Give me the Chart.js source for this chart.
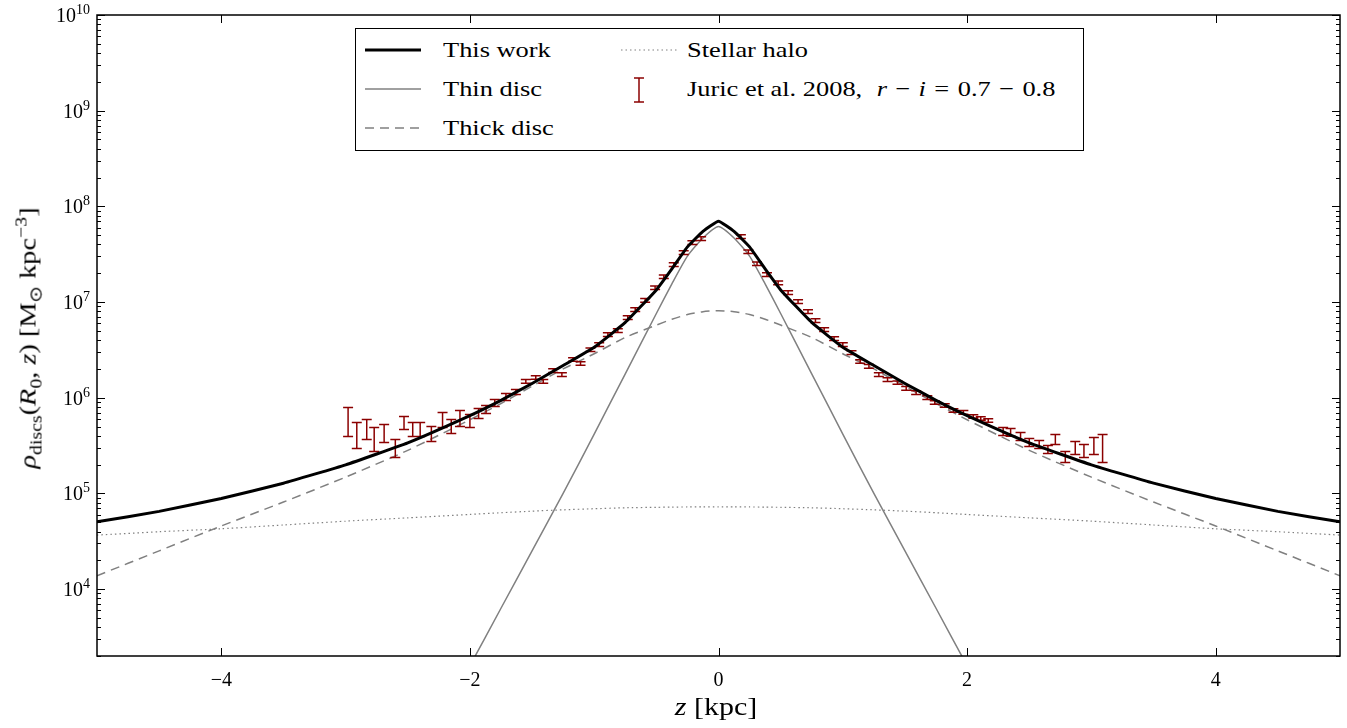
<!DOCTYPE html>
<html>
<head>
<meta charset="utf-8">
<script src="https://cdn.jsdelivr.net/npm/chart.js@4.4.1/dist/chart.umd.min.js"></script>
<style>
  html,body{margin:0;padding:0;background:#fff;}
  #wrap{position:relative;width:1347px;height:728px;color:#000;}
  .serif{font-family:'Liberation Serif','Times New Roman',Times,serif;}
  canvas{position:absolute;left:0;top:0;}
  .lbl{position:absolute;white-space:nowrap;}
  #legend{position:absolute;left:355px;top:28px;width:729px;height:123px;border:1.5px solid #000;box-sizing:border-box;background:#fff;font-size:22px;}
  #legend .t{position:absolute;white-space:nowrap;line-height:24px;transform-origin:left center;transform:scaleX(1.2);}
  #legend svg{position:absolute;left:0;top:0;}
  sub,sup{font-size:70%;line-height:0;}
  .op{margin:0 7px;}
  .gap{display:inline-block;width:12px;}
</style>
</head>
<body>
<div id="wrap">
<canvas id="c" width="1347" height="728"></canvas>
<div id="legend" class="serif">
  <svg width="729" height="123">
    <line x1="9" y1="21" x2="65" y2="21" stroke="#000" stroke-width="3"/>
    <line x1="9" y1="60" x2="65" y2="60" stroke="#808080" stroke-width="1.5"/>
    <line x1="9" y1="99" x2="65" y2="99" stroke="#808080" stroke-width="1.5" stroke-dasharray="9,6"/>
    <line x1="265" y1="21" x2="321" y2="21" stroke="#808080" stroke-width="1.2" stroke-dasharray="1.5,3"/>
    <line x1="283" y1="49" x2="283" y2="73" stroke="#8b0000" stroke-width="1.5"/>
    <line x1="278" y1="49" x2="288" y2="49" stroke="#8b0000" stroke-width="1.5"/>
    <line x1="278" y1="73" x2="288" y2="73" stroke="#8b0000" stroke-width="1.5"/>
  </svg>
  <div class="t serif" style="left:87px;top:9px;">This work</div>
  <div class="t serif" style="left:87px;top:48px;">Thin disc</div>
  <div class="t serif" style="left:87px;top:87px;">Thick disc</div>
  <div class="t serif" style="left:331px;top:9px;">Stellar halo</div>
  <div class="t serif" style="left:331px;top:48px;">Juric et al. 2008,<span class="gap"></span><i>r</i><span class="op">−</span><i>i</i><span class="op">=</span>0.7<span class="op">−</span>0.8</div>
</div>
<div class="lbl serif" id="ylab" style="left:28px;top:338px;font-size:24px;transform:translate(-50%,-50%) rotate(-90deg) scaleX(1.18);"><i>ρ</i><sub>discs</sub>(<i>R</i><sub>0</sub>, <i>z</i>) [M<sub>⊙</sub> kpc<sup>−3</sup>]</div>
<div class="lbl serif" id="xlab" style="left:716px;top:707px;font-size:25px;transform:translate(-50%,-50%) scaleX(1.2);"><i>z</i> [kpc]</div>
</div>
<script>
// ---- Data ----
const zGrid = [-5,-4.5,-4,-3.5,-3,-2.5,-2,-1.75,-1.5,-1.25,-1,-0.75,-0.5,-0.375,-0.25,-0.125,0,0.125,0.25,0.375,0.5,0.75,1,1.25,1.5,1.75,2,2.5,3,3.5,4,4.5,5];
const thisWork = [5.05e4,6.49e4,8.84e4,1.28e5,1.99e5,3.38e5,6.51e5,9.4e5,1.41e6,2.17e6,3.37e6,6.12e6,1.34e7,2.22e7,3.77e7,5.48e7,7.0e7,5.48e7,3.77e7,2.22e7,1.34e7,6.12e6,3.37e6,2.17e6,1.41e6,9.4e5,6.51e5,3.38e5,1.99e5,1.28e5,8.84e4,6.49e4,5.05e4];
const thinDisc = [null,null,null,null,null,1.0e2,1.58e3,6.31e3,2.51e4,1.0e5,4.17e5,1.78e6,7.59e6,1.55e7,3.02e7,4.68e7,6.17e7,4.68e7,3.02e7,1.55e7,7.59e6,1.78e6,4.17e5,1.0e5,2.51e4,6.31e3,1.58e3,1.0e2,null,null,null,null,null];
const thickDisc = [1.38e4,2.51e4,4.57e4,8.13e4,1.48e5,2.82e5,5.89e5,8.71e5,1.32e6,2.0e6,2.88e6,4.27e6,5.75e6,6.61e6,7.41e6,7.94e6,8.13e6,7.94e6,7.41e6,6.61e6,5.75e6,4.27e6,2.88e6,2.0e6,1.32e6,8.71e5,5.89e5,2.82e5,1.48e5,8.13e4,4.57e4,2.51e4,1.38e4];
const stellarHalo = [3.67e4,3.98e4,4.27e4,4.68e4,5.13e4,5.56e4,6.03e4,6.28e4,6.53e4,6.74e4,6.92e4,7.08e4,7.16e4,7.2e4,7.22e4,7.24e4,7.24e4,7.24e4,7.22e4,7.2e4,7.16e4,7.08e4,6.92e4,6.74e4,6.53e4,6.28e4,6.03e4,5.56e4,5.13e4,4.68e4,4.27e4,3.98e4,3.67e4];

const juricZ = [-2.98,-2.91,-2.83,-2.77,-2.69,-2.60,-2.53,-2.46,-2.40,-2.31,-2.22,-2.15,-2.08,-2.00,-1.93,-1.87,-1.80,-1.71,-1.63,-1.55,-1.47,-1.41,-1.33,-1.26,-1.17,-1.11,-1.03,-0.96,-0.89,-0.81,-0.73,-0.67,-0.59,-0.51,-0.44,-0.36,-0.28,-0.21,-0.14,
  0.18,0.24,0.31,0.39,0.48,0.56,0.64,0.72,0.78,0.85,0.93,1.00,1.07,1.14,1.21,1.29,1.36,1.44,1.51,1.59,1.68,1.74,1.82,1.89,1.97,2.05,2.11,2.17,2.29,2.35,2.43,2.50,2.58,2.65,2.71,2.79,2.87,2.94,3.02,3.09];
const juricRho = [5.65e5,4.04e5,4.66e5,3.66e5,4.23e5,2.95e5,5.38e5,4.66e5,4.66e5,4.23e5,5.93e5,5.01e5,6.07e5,5.78e5,6.84e5,7.53e5,8.91e5,1.03e6,1.16e6,1.48e6,1.63e6,1.48e6,1.92e6,1.75e6,2.51e6,2.28e6,3.18e6,3.59e6,4.57e6,5.03e6,6.88e6,8.34e6,1.04e7,1.41e7,1.84e7,2.46e7,3.28e7,4.17e7,4.59e7,
  4.82e7,3.36e7,2.52e7,1.93e7,1.59e7,1.25e7,1.01e7,7.94e6,6.40e6,5.15e6,4.15e6,3.59e6,2.96e6,2.39e6,2.12e6,1.75e6,1.55e6,1.44e6,1.25e6,1.13e6,1.00e6,8.91e5,8.30e5,7.36e5,7.02e5,6.37e5,6.07e5,5.78e5,4.44e5,4.34e5,3.94e5,3.41e5,3.25e5,2.88e5,3.66e5,2.43e5,3.02e5,2.88e5,3.10e5,2.88e5];
const juricLo = [3.94e5,2.95e5,3.66e5,2.75e5,3.41e5,2.38e5,4.66e5,3.94e5,3.94e5,3.49e5,4.89e5,4.23e5,5.01e5,4.89e5,6.07e5,6.84e5,8.09e5,9.35e5,1.08e6,1.42e6,1.56e6,1.42e6,1.84e6,1.67e6,2.40e6,2.18e6,3.04e6,3.44e6,4.37e6,4.81e6,6.58e6,7.98e6,9.95e6,1.35e7,1.76e7,2.35e7,3.14e7,3.99e7,4.39e7,
  4.61e7,3.22e7,2.41e7,1.85e7,1.52e7,1.20e7,9.67e6,7.60e6,6.12e6,4.93e6,3.97e6,3.44e6,2.83e6,2.29e6,2.03e6,1.67e6,1.48e6,1.38e6,1.20e6,1.08e6,9.57e5,8.53e5,7.94e5,7.04e5,6.72e5,6.10e5,5.81e5,5.53e5,4.04e5,3.95e5,3.58e5,3.10e5,2.95e5,2.62e5,3.25e5,2.11e5,2.55e5,2.38e5,2.55e5,2.11e5];
const juricHi = [7.91e5,5.51e5,5.93e5,4.89e5,5.25e5,3.66e5,6.37e5,5.51e5,5.51e5,5.01e5,7.02e5,5.93e5,7.36e5,6.68e5,7.71e5,8.30e5,9.58e5,1.11e6,1.22e6,1.55e6,1.70e6,1.55e6,2.01e6,1.83e6,2.62e6,2.38e6,3.32e6,3.75e6,4.78e6,5.26e6,7.19e6,8.72e6,1.09e7,1.47e7,1.92e7,2.57e7,3.43e7,4.36e7,4.80e7,
  5.04e7,3.51e7,2.63e7,2.02e7,1.66e7,1.31e7,1.06e7,8.30e6,6.69e6,5.38e6,4.34e6,3.75e6,3.09e6,2.50e6,2.22e6,1.83e6,1.62e6,1.50e6,1.31e6,1.18e6,1.05e6,9.31e5,8.67e5,7.69e5,7.34e5,6.66e5,6.34e5,6.04e5,4.88e5,4.77e5,4.33e5,3.75e5,3.58e5,3.17e5,4.13e5,2.75e5,3.49e5,3.25e5,3.85e5,4.13e5];

const xTickValues = [-4,-2,0,2,4];
const xTickLabels = ['\u22124','\u22122','0','2','4'];
const yTickValues = [1e4,1e5,1e6,1e7,1e8,1e9,1e10];
const yTickBase = '10';
const yTickExponents = ['4','5','6','7','8','9','10'];

// ---- Build ----
const FONT = "'Liberation Serif','Times New Roman',Times,serif";
const pts = arr => zGrid.map((z,i)=>({x:z,y:arr[i]}));

const errPlugin = {
  id:'errbars',
  afterDatasetDraw(chart,args){
    if(args.index!==1) return;
    const {ctx, scales:{x,y}, chartArea:a} = chart;
    ctx.save();
    ctx.beginPath(); ctx.rect(a.left,a.top,a.right-a.left,a.bottom-a.top); ctx.clip();
    ctx.strokeStyle='#8b0000'; ctx.lineWidth=1.5;
    ctx.beginPath();
    for(let i=0;i<juricZ.length;i++){
      const px=x.getPixelForValue(juricZ[i]);
      const y1=y.getPixelForValue(juricLo[i]);
      const y2=y.getPixelForValue(juricHi[i]);
      ctx.moveTo(px,y1); ctx.lineTo(px,y2);
      ctx.moveTo(px-5,y1); ctx.lineTo(px+5,y1);
      ctx.moveTo(px-5,y2); ctx.lineTo(px+5,y2);
    }
    ctx.stroke();
    ctx.restore();
  }
};

const framePlugin = {
  id:'frame',
  afterDraw(chart){
    const {ctx, chartArea:a, scales:{x,y}} = chart;
    ctx.save();
    ctx.strokeStyle='#000'; ctx.lineWidth=1;
    ctx.beginPath();
    xTickValues.forEach(v=>{
      const px=Math.round(x.getPixelForValue(v))+0.5;
      ctx.moveTo(px,a.bottom); ctx.lineTo(px,a.bottom-8);
      ctx.moveTo(px,a.top); ctx.lineTo(px,a.top+8);
    });
    yTickValues.forEach(v=>{
      const py=Math.round(y.getPixelForValue(v))+0.5;
      ctx.moveTo(a.left,py); ctx.lineTo(a.left+8,py);
      ctx.moveTo(a.right,py); ctx.lineTo(a.right-8,py);
    });
    for(let k=3;k<10;k++){
      for(let m=2;m<10;m++){
        const v=m*Math.pow(10,k);
        if(v<y.min||v>y.max) continue;
        const py=Math.round(y.getPixelForValue(v))+0.5;
        ctx.moveTo(a.left,py); ctx.lineTo(a.left+4,py);
        ctx.moveTo(a.right,py); ctx.lineTo(a.right-4,py);
      }
    }
    ctx.stroke();
    ctx.lineWidth=1.5;
    ctx.strokeRect(a.left,a.top,a.right-a.left,a.bottom-a.top);
    // y tick labels: base + raised exponent
    ctx.fillStyle='#000';
    ctx.textBaseline='alphabetic';
    yTickValues.forEach((v,i)=>{
      const py=y.getPixelForValue(v);
      ctx.font='14px '+FONT;
      const ew=ctx.measureText(yTickExponents[i]).width;
      const right=a.left-7;
      ctx.textAlign='left';
      ctx.fillText(yTickExponents[i], right-ew, py-1);
      ctx.font='20px '+FONT;
      ctx.textAlign='right';
      ctx.fillText(yTickBase, right-ew, py+7);
    });
    ctx.restore();
  }
};

const tickFont = {family:FONT, size:20};

new Chart(document.getElementById('c'),{
  type:'line',
  data:{datasets:[
    {label:'This work',data:pts(thisWork),borderColor:'#000',borderWidth:3,pointRadius:0,tension:0.12,fill:false},
    {label:'Thin disc',data:pts(thinDisc),borderColor:'#808080',borderWidth:1.5,pointRadius:0,tension:0.2,fill:false,spanGaps:false},
    {label:'Thick disc',data:pts(thickDisc),borderColor:'#808080',borderWidth:1.5,borderDash:[9,6],pointRadius:0,tension:0.2,fill:false},
    {label:'Stellar halo',data:pts(stellarHalo),borderColor:'#808080',borderWidth:1.2,borderDash:[1.5,3],pointRadius:0,tension:0.2,fill:false},
    {label:'Juric et al. 2008',data:juricZ.map((z,i)=>({x:z,y:juricRho[i]})),showLine:false,pointRadius:0,borderColor:'#8b0000'}
  ]},
  options:{
    responsive:false,animation:false,devicePixelRatio:1,
    layout:{padding:{top:15,right:7,left:0,bottom:0}},
    plugins:{legend:{display:false},tooltip:{enabled:false}},
    scales:{
      x:{type:'linear',min:-5,max:5,grid:{display:false},border:{display:false},
        afterBuildTicks:s=>{s.ticks=xTickValues.map(v=>({value:v}));},
        afterFit:s=>{s.height=72;},
        ticks:{autoSkip:false,maxRotation:0,padding:5,color:'#000',font:tickFont,
          callback:(v)=>{const i=xTickValues.indexOf(v);return i>=0?xTickLabels[i]:'';}}},
      y:{type:'logarithmic',min:2000,max:1e10,grid:{display:false},border:{display:false},
        afterBuildTicks:s=>{s.ticks=yTickValues.map(v=>({value:v}));},
        afterFit:s=>{s.width=97;},
        ticks:{display:false,autoSkip:false}}
    }
  },
  plugins:[errPlugin,framePlugin]
});
</script>
</body>
</html>
